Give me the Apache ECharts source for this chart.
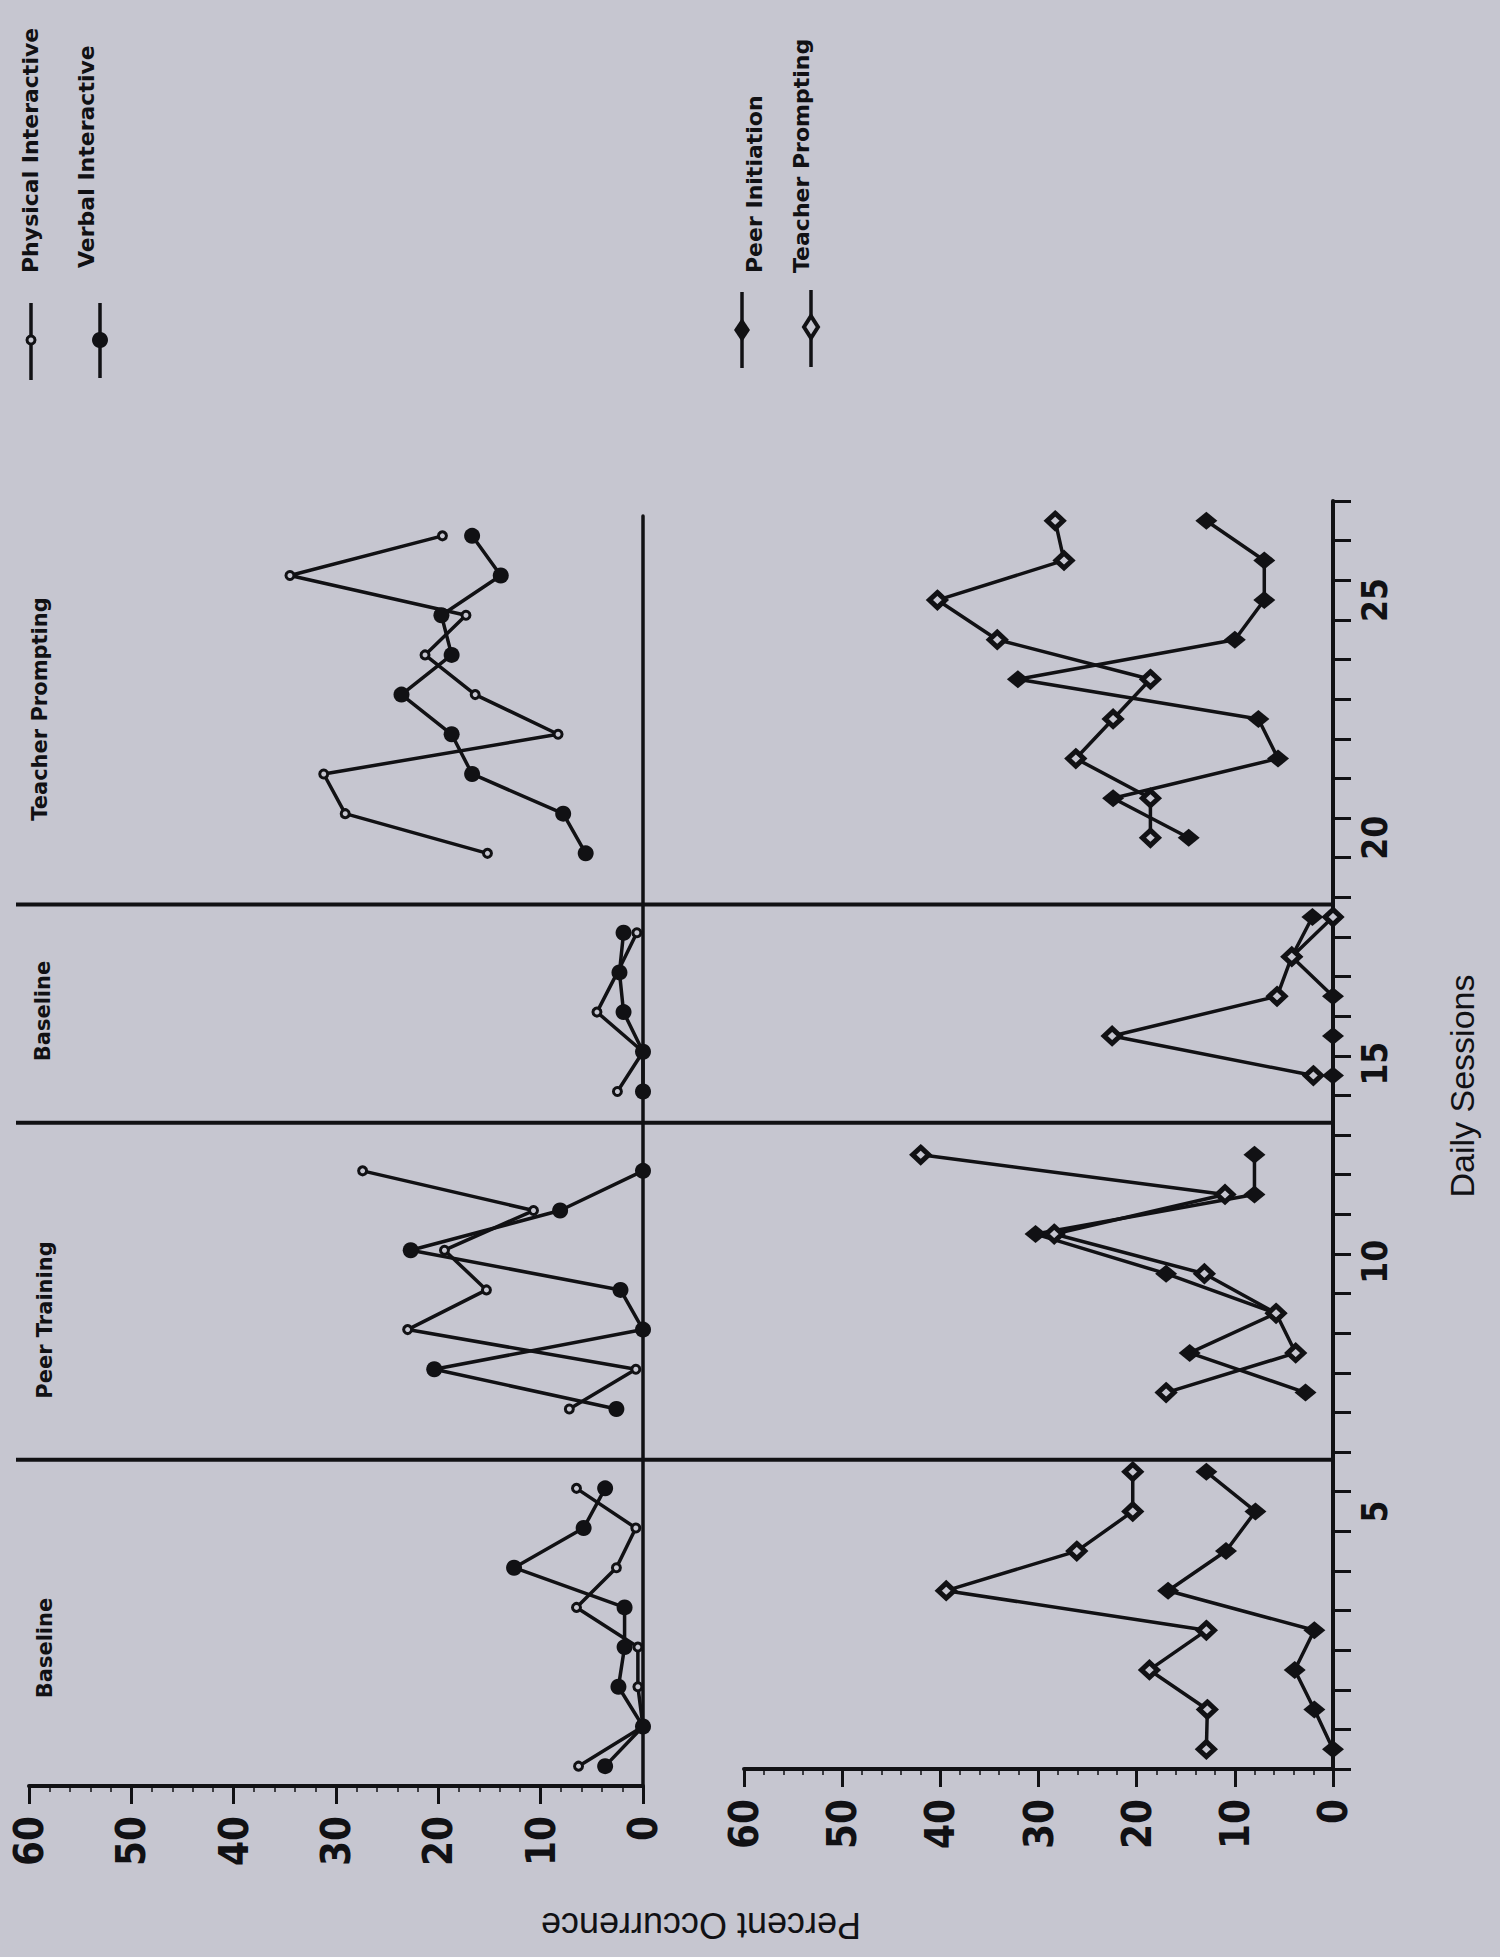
<!DOCTYPE html>
<html>
<head>
<meta charset="utf-8">
<script src="https://cdn.jsdelivr.net/npm/echarts@6/dist/echarts.min.js"></script>
<style>
html,body{margin:0;padding:0;background:#c6c6d0;}
#c{width:1500px;height:1957px;}
</style>
</head>
<body>
<div id="c"></div>
<script>
// ---- data (session slot along the time axis; null = no observation) ----
const sessionSlots = [1,2,3,4,5,6,7,8,9,10,11,12,13,14,15,16,17,18,19,20,21,22,23,24,25,26,27,28,29,30,31,32];
const physicalInteractive = [6.3,0,0.5,0.5,6.5,2.6,0.7,6.5,null,7.2,0.7,23,15.3,19.4,10.7,27.4,null,2.5,0,4.5,2.5,0.6,null,15.2,29.1,31.2,8.3,16.4,21.3,17.3,34.5,19.6];
const verbalInteractive   = [3.7,0,2.4,1.8,1.8,12.6,5.8,3.7,null,2.6,20.4,0,2.2,22.7,8.1,0,null,0,0,1.9,2.3,1.9,null,5.6,7.8,16.7,18.7,23.6,18.7,19.7,13.9,16.7];
const peerInitiation      = [0,1.9,3.9,1.9,16.8,10.9,7.9,12.9,null,2.8,14.6,5.8,17,30.3,8,8,null,0,0,0,4.2,2.1,null,14.7,22.4,5.6,7.6,32.1,10,7,7,12.9];
const teacherPrompting    = [12.9,12.8,18.7,12.9,39.4,26.1,20.4,20.4,null,17,3.8,5.8,13.1,28.4,11,42,null,2,22.5,5.7,4.2,0,null,18.6,18.6,26.2,22.4,18.6,34.2,40.3,27.4,28.3];
const phaseBreaks = [8.5, 17, 22.5];
const phaseNames = ['Baseline', 'Peer Training', 'Baseline', 'Teacher Prompting'];
const sessionLabelText = ['5','10','15','20','25'];
const sessionLabelPos  = [7, 13.3, 18.3, 24, 30];
const percentTickLabels = [0,10,20,30,40,50,60];

// ---- styling ----
const INK = '#111114';
const BG = '#c6c6d0';
const NARROW = "'Liberation Sans Narrow','DejaVu Sans Condensed','Liberation Sans',sans-serif";
const BOLDF = "'DejaVu Sans',sans-serif";
const SANS = "'Liberation Sans',Arial,sans-serif";

const sessionTickPos = [];
for (let b = 0.5; b <= 32.5; b += 1) sessionTickPos.push(b);

function toPairs(vals){
  return sessionSlots.map((s,i)=> [vals[i] == null ? '-' : vals[i], s]);
}

const pctAxis = (gi) => ({
  gridIndex: gi, type:'value', min: percentTickLabels[0], max: percentTickLabels[percentTickLabels.length-1],
  interval: 10, inverse: true, position:'bottom',
  axisLine:{show:true, onZero:false, lineStyle:{color:INK, width:4}},
  axisTick:{show:true, length:18, lineStyle:{color:INK, width:3}},
  minorTick:{show:true, splitNumber:5, length:6, lineStyle:{color:INK, width:1.5}},
  splitLine:{show:false},
  axisLabel:{rotate:90, margin:30, fontSize:40, fontWeight:'bold', fontFamily:NARROW, color:INK}
});

const lineBase = {type:'line', connectNulls:false, animation:false, lineStyle:{color:INK, width:3.5}, z:3};

const series = [
  Object.assign({}, lineBase, {name:'Physical Interactive', xAxisIndex:0, yAxisIndex:0, data:toPairs(physicalInteractive),
    symbol:'circle', symbolSize:8, itemStyle:{color:BG, borderColor:INK, borderWidth:3}}),
  Object.assign({}, lineBase, {name:'Verbal Interactive', xAxisIndex:0, yAxisIndex:0, data:toPairs(verbalInteractive),
    symbol:'circle', symbolSize:16, itemStyle:{color:INK, borderColor:INK, borderWidth:0}}),
  Object.assign({}, lineBase, {name:'Peer Initiation', xAxisIndex:1, yAxisIndex:1, data:toPairs(peerInitiation),
    symbol:'diamond', symbolSize:[22,18], itemStyle:{color:INK, borderColor:INK, borderWidth:0}}),
  Object.assign({}, lineBase, {name:'Teacher Prompting', xAxisIndex:1, yAxisIndex:1, data:toPairs(teacherPrompting),
    symbol:'diamond', symbolSize:[16,15], itemStyle:{color:BG, borderColor:INK, borderWidth:5}})
];
phaseBreaks.forEach(b => {
  series.push({type:'line', xAxisIndex:2, yAxisIndex:2, data:[[0,b],[1,b]], symbol:'none', silent:true,
    animation:false, lineStyle:{color:INK, width:4}, z:2});
});

// legend & text decorations
function vtext(x, y, txt, font, align){
  return {type:'text', x:x, y:y, rotation:Math.PI/2, silent:true,
    style:{text:txt, font:font, fill:INK, align:align||'center', verticalAlign:'middle'}};
}
function vline(x, y1, y2){
  return {type:'line', silent:true, shape:{x1:x, y1:y1, x2:x, y2:y2}, style:{stroke:INK, lineWidth:3.5}};
}
function diamond(cx, cy, w, h, filled){
  return {type:'polygon', silent:true, shape:{points:[[cx,cy-h/2],[cx+w/2,cy],[cx,cy+h/2],[cx-w/2,cy]]},
    style: filled ? {fill:INK} : {fill:BG, stroke:INK, lineWidth:4}};
}
const legendFont = "bold 22px " + BOLDF;
const phaseFont = "bold 21px " + BOLDF;
const graphics = [
  // top panel legend
  vtext(30, 273, 'Physical Interactive', legendFont, 'left'),
  vline(31, 303, 380),
  {type:'circle', silent:true, shape:{cx:31, cy:340, r:4}, style:{fill:BG, stroke:INK, lineWidth:3}},
  vtext(86, 268, 'Verbal Interactive', legendFont, 'left'),
  vline(100, 303, 378),
  {type:'circle', silent:true, shape:{cx:100, cy:340, r:8}, style:{fill:INK}},
  // bottom panel legend
  vtext(754, 273, 'Peer Initiation', legendFont, 'left'),
  vline(742, 292, 368),
  diamond(742, 330, 16, 24, true),
  vtext(801, 273, 'Teacher Prompting', legendFont, 'left'),
  vline(811, 290, 367),
  diamond(811, 327, 14, 22, false),
  // phase labels
  vtext(45, 1648, phaseNames[0], phaseFont),
  vtext(45, 1320, phaseNames[1], phaseFont),
  vtext(43, 1011, phaseNames[2], phaseFont),
  vtext(40, 709, phaseNames[3], phaseFont),
  // axis titles
  vtext(1462, 1086, 'Daily Sessions', "34px " + SANS),
  {type:'text', x:701, y:1925, rotation:Math.PI, silent:true,
    style:{text:'Percent Occurrence', font:"36px " + SANS, fill:INK, align:'center', verticalAlign:'middle'}}
];

const option = {
  backgroundColor: BG,
  animation:false,
  grid:[
    {left:29, right:857, top:516, bottom:171, containLabel:false, outerBoundsMode:'none'},
    {left:744, right:167, top:501, bottom:188, containLabel:false, outerBoundsMode:'none'},
    {left:16, right:167, top:508, bottom:180, containLabel:false, outerBoundsMode:'none'}
  ],
  xAxis:[
    pctAxis(0),
    pctAxis(1),
    {gridIndex:2, type:'value', min:0, max:1, show:false}
  ],
  yAxis:[
    {gridIndex:0, type:'value', min:0.5, max:32.5, position:'right',
      axisLine:{show:true, onZero:false, lineStyle:{color:INK, width:3.5}},
      axisTick:{show:false}, axisLabel:{show:false}, splitLine:{show:false}},
    {gridIndex:1, type:'value', min:0.5, max:32.5, position:'right',
      axisLine:{show:true, onZero:false, lineStyle:{color:INK, width:4}},
      axisTick:{show:true, customValues:sessionTickPos, length:18, lineStyle:{color:INK, width:3}},
      axisLabel:{show:true, customValues:sessionLabelPos, rotate:90, margin:24,
        fontSize:35, fontWeight:'bold', fontFamily:NARROW, color:INK,
        formatter:function(v){
          const i = sessionLabelPos.findIndex(p => Math.abs(p - v) < 1e-6);
          return i >= 0 ? sessionLabelText[i] : '';
        }},
      splitLine:{show:false}},
    {gridIndex:2, type:'value', min:0.5, max:32.5, show:false}
  ],
  series: series,
  graphic: graphics
};

const chart = echarts.init(document.getElementById('c'), null, {renderer:'svg', width:1500, height:1957});
chart.setOption(option);
</script>
</body>
</html>
